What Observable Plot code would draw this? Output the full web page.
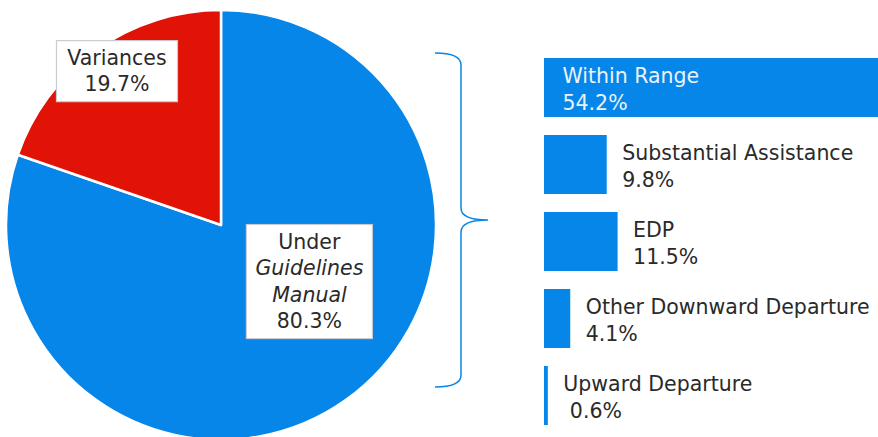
<!DOCTYPE html>
<html><head><meta charset="utf-8">
<script src="https://cdn.jsdelivr.net/npm/d3@7"></script>
<script src="https://cdn.jsdelivr.net/npm/@observablehq/plot@0.6"></script>
<style>html,body{margin:0;padding:0;background:#fff;overflow:hidden}</style>
</head><body><div id="chart"></div>
<script>
// ---- data ----
const pieCategories = ["Under Guidelines Manual", "Variances"];
const pieValues = [80.3, 19.7];
const pieValueLabels = ["80.3%", "19.7%"];
const barCategories = ["Within Range", "Substantial Assistance", "EDP", "Other Downward Departure", "Upward Departure"];
const barValues = [54.2, 9.8, 11.5, 4.1, 0.6];
const barValueLabels = ["54.2%", "9.8%", "11.5%", "4.1%", "\u00a00.6%"];

const BLUE = "#0686E8", RED = "#E01306", TEXT = "#2a2a2a";
const FONT = "'DejaVu Sans', sans-serif";
const FS = 20.5;

const pieData = pieCategories.map((c, i) => ({category: c, value: pieValues[i], label: pieValueLabels[i], color: i === 0 ? BLUE : RED}));
const bars = barCategories.map((c, i) => ({category: c, value: barValues[i], label: c + "\n" + barValueLabels[i]}));

function pieMark(index, scales, values, dimensions) {
  const cx = 221, cy = 225, R = 215;
  const g = d3.create("svg:g").attr("transform", `translate(${cx},${cy})`);
  const arcs = d3.pie().sort(null).value(d => d.value)(pieData);
  const arc = d3.arc().innerRadius(0).outerRadius(R);
  g.selectAll("path").data(arcs).join("path")
    .attr("d", arc).attr("fill", d => d.data.color)
    .attr("stroke", "#fff").attr("stroke-width", 2.5).attr("stroke-linejoin", "round");
  const styles = [
    {r: 0.38, dx: 41, dy: -10, w: 126, lines: [["Under", false], ["Guidelines", true], ["Manual", true]]},
    {r: 0.85, dx: 2, dy: -5, w: 121, lines: [["Variances", false]]}
  ];
  arcs.forEach((a, i) => {
    const s = styles[i];
    const mid = (a.startAngle + a.endAngle) / 2;
    const px = Math.sin(mid) * R * s.r + s.dx;
    const py = -Math.cos(mid) * R * s.r + s.dy;
    const lines = s.lines.concat([[a.data.label, false]]);
    const lh = 26.5;
    const h = lines.length * lh + 8;
    g.append("rect").attr("x", px - s.w / 2).attr("y", py - h / 2).attr("width", s.w).attr("height", h)
      .attr("fill", "#fff").attr("stroke", "#c9cdd2").attr("stroke-width", 1.2);
    lines.forEach(([t, it], j) => {
      g.append("text").attr("x", px).attr("y", py - h / 2 + 4 + lh * (j + 0.5))
        .attr("text-anchor", "middle").attr("dominant-baseline", "central")
        .attr("font-family", FONT).attr("font-size", FS).attr("fill", TEXT)
        .attr("font-style", it ? "italic" : "normal").text(t);
    });
  });
  return g.node();
}

function braceMark(index, scales) {
  const x0 = 435, x1 = 461, tip = 488;
  const top = scales.y(barCategories[0]) - 5;
  const bottom = scales.y(barCategories[barCategories.length - 1]) + 21;
  const mid = (top + bottom) / 2;
  const p = `M${x0},${top} Q${x1},${top} ${x1},${top + 12} L${x1},${mid - 12} Q${x1},${mid} ${tip},${mid} Q${x1},${mid} ${x1},${mid + 12} L${x1},${bottom - 12} Q${x1},${bottom} ${x0},${bottom}`;
  return d3.create("svg:path").attr("d", p).attr("fill", "none").attr("stroke", BLUE).attr("stroke-width", 1.5).node();
}

const chart = Plot.plot({
  width: 878, height: 437, margin: 0,
  style: {fontFamily: FONT, background: "#fff", overflow: "hidden"},
  x: {domain: [0, 100], range: [544, 1184], axis: null},
  y: {domain: barCategories, range: [57, 427], paddingInner: 0.232, paddingOuter: 0, axis: null},
  marks: [
    pieMark,
    braceMark,
    Plot.barX(bars, {x: "value", y: "category", fill: BLUE}),
    Plot.text(bars.slice(0, 1), {x: () => 0, y: "category", text: "label", dx: 18, dy: 0, textAnchor: "start", fill: "#eaf2fb", fontSize: FS, lineHeight: 1.28}),
    Plot.text(bars.slice(1), {x: "value", y: "category", text: "label", dx: 15, dy: 0, textAnchor: "start", fill: TEXT, fontSize: FS, lineHeight: 1.3})
  ]
});
document.getElementById("chart").append(chart);
</script>
</body></html>
